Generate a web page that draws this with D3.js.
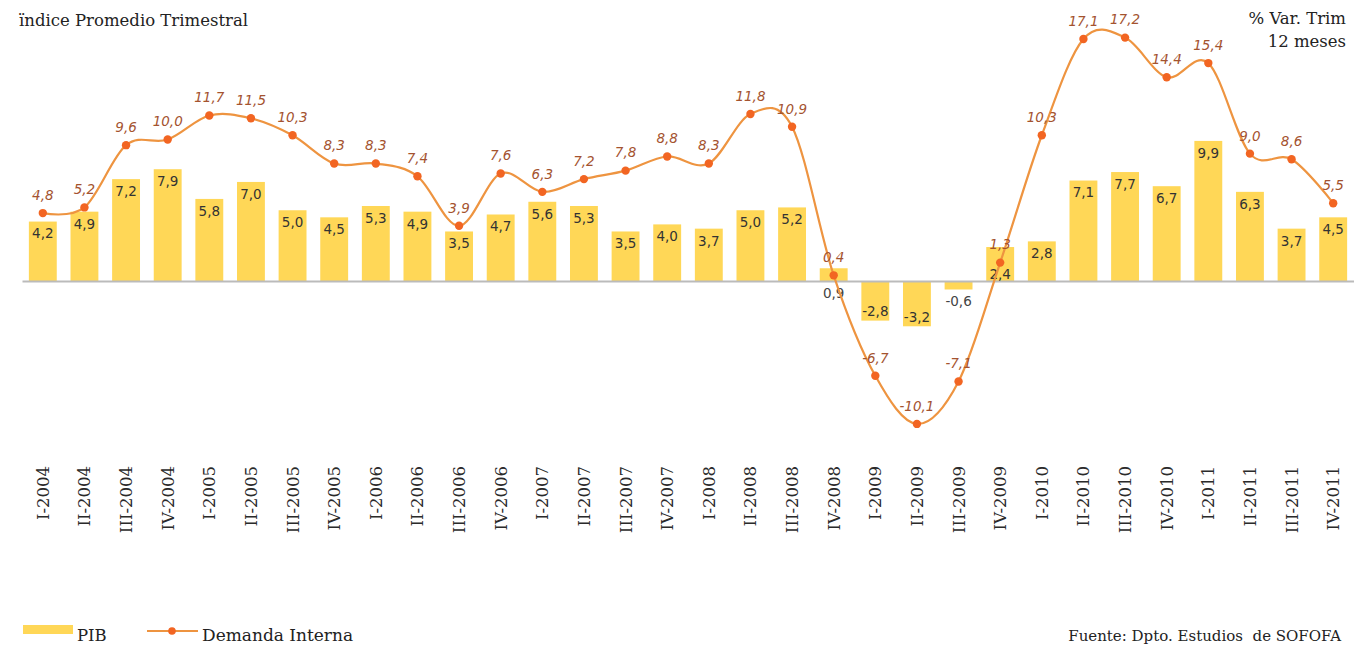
<!DOCTYPE html>
<html><head><meta charset="utf-8">
<script src="https://cdn.jsdelivr.net/npm/d3@7/dist/d3.min.js"></script>
<style>body{margin:0;background:#fff}svg{display:block}</style>
</head><body>
<svg id="c" width="1354" height="645"></svg>
<script>
const categories = ["I-2004","II-2004","III-2004","IV-2004","I-2005","II-2005","III-2005","IV-2005","I-2006","II-2006","III-2006","IV-2006","I-2007","II-2007","III-2007","IV-2007","I-2008","II-2008","III-2008","IV-2008","I-2009","II-2009","III-2009","IV-2009","I-2010","II-2010","III-2010","IV-2010","I-2011","II-2011","III-2011","IV-2011"];
const pib = [4.2,4.9,7.2,7.9,5.8,7.0,5.0,4.5,5.3,4.9,3.5,4.7,5.6,5.3,3.5,4.0,3.7,5.0,5.2,0.9,-2.8,-3.2,-0.6,2.4,2.8,7.1,7.7,6.7,9.9,6.3,3.7,4.5];
const demanda = [4.8,5.2,9.6,10.0,11.7,11.5,10.3,8.3,8.3,7.4,3.9,7.6,6.3,7.2,7.8,8.8,8.3,11.8,10.9,0.4,-6.7,-10.1,-7.1,1.3,10.3,17.1,17.2,14.4,15.4,9.0,8.6,5.5];
const seriesNames = ["PIB","Demanda Interna"];

const fmt = v => v.toFixed(1).replace(".", ",");
const svg = d3.select("#c");
const serif = "'DejaVu Serif', serif";
const sans = "'DejaVu Sans', sans-serif";

const x = d3.scaleBand().domain(categories).range([22, 1354]).paddingInner(0.33).paddingOuter(0.165);
const y = d3.scaleLinear().domain([-12, 19]).range([450.8, 12.15]);
const cx = c => x(c) + x.bandwidth() / 2;

// bars
svg.append("g").selectAll("rect").data(pib).join("rect")
  .attr("x", (d, i) => x(categories[i]))
  .attr("width", x.bandwidth())
  .attr("y", d => y(Math.max(0, d)))
  .attr("height", d => Math.abs(y(d) - y(0)))
  .attr("fill", "#FFD757");

// zero axis
svg.append("g").attr("transform", `translate(0,${y(0)})`)
  .call(d3.axisBottom(x).tickSize(0).tickFormat(""))
  .call(g => g.select(".domain").attr("stroke", "#BBBBBB").attr("stroke-width", 2));

// x tick labels
svg.append("g").selectAll("text").data(categories).join("text")
  .attr("transform", d => `translate(${cx(d) + 6},466) rotate(-90)`)
  .attr("text-anchor", "end")
  .attr("font-family", serif).attr("font-size", 16.5).attr("fill", "#2a2a2a")
  .text(d => d);

// bar labels
svg.append("g").selectAll("text").data(pib).join("text")
  .attr("x", (d, i) => cx(categories[i]))
  .attr("y", (d, i) => {
    let c;
    if (d >= 2) c = y(d) + 12;
    else if (d >= 0) c = y(0) + 12;
    else if (d <= -2) c = y(d) - 9;
    else c = y(d) + 12;
    const py = y(demanda[i]);
    if (Math.abs(c - py) < 10) c = py + 12;
    return c;
  })
  .attr("dy", "0.36em")
  .attr("text-anchor", "middle")
  .attr("font-family", sans).attr("font-size", 13.5)
  .attr("fill", d => Math.abs(d) < 2 ? "#444" : "#333")
  .text(d => fmt(d));

// line
const line = d3.line()
  .x((d, i) => cx(categories[i]))
  .y(d => y(d))
  .curve(d3.curveCardinal.tension(0));
svg.append("path").datum(demanda)
  .attr("d", line).attr("fill", "none")
  .attr("stroke", "#EE9440").attr("stroke-width", 2.2);

svg.append("g").selectAll("circle").data(demanda).join("circle")
  .attr("cx", (d, i) => cx(categories[i]))
  .attr("cy", d => y(d))
  .attr("r", 4.2).attr("fill", "#F26522");

svg.append("g").selectAll("text").data(demanda).join("text")
  .attr("x", (d, i) => cx(categories[i]))
  .attr("y", d => y(d) - 18)
  .attr("dy", "0.36em")
  .attr("text-anchor", "middle")
  .attr("font-family", sans).attr("font-style", "italic").attr("font-size", 13.5)
  .attr("fill", "#A4532F")
  .text(d => fmt(d));

// titles
svg.append("text").attr("x", 19).attr("y", 26)
  .attr("font-family", serif).attr("font-size", 16.5).attr("fill", "#222")
  .text("ïndice Promedio Trimestral");
svg.append("text").attr("x", 1346).attr("y", 24).attr("text-anchor", "end")
  .attr("font-family", serif).attr("font-size", 16.5).attr("fill", "#222")
  .text("% Var. Trim");
svg.append("text").attr("x", 1346).attr("y", 47).attr("text-anchor", "end")
  .attr("font-family", serif).attr("font-size", 16.5).attr("fill", "#222")
  .text("12 meses");

// legend
const lg = svg.append("g");
lg.append("rect").attr("x", 23).attr("y", 625).attr("width", 50).attr("height", 9).attr("fill", "#FFD757");
lg.append("text").attr("x", 77).attr("y", 641).attr("font-family", serif).attr("font-size", 16.5).attr("fill", "#222").text(seriesNames[0]);
lg.append("line").attr("x1", 147).attr("x2", 198).attr("y1", 631).attr("y2", 631).attr("stroke", "#EE9440").attr("stroke-width", 2.2);
lg.append("circle").attr("cx", 172).attr("cy", 631).attr("r", 3.8).attr("fill", "#F26522");
lg.append("text").attr("x", 202).attr("y", 641).attr("font-family", serif).attr("font-size", 17).attr("fill", "#222").text(seriesNames[1]);

svg.append("text").attr("x", 1341).attr("y", 641).attr("text-anchor", "end")
  .attr("font-family", serif).attr("font-size", 15).attr("fill", "#222")
  .attr("xml:space", "preserve").style("white-space", "pre")
  .text("Fuente: Dpto. Estudios  de SOFOFA");
</script>
</body></html>
